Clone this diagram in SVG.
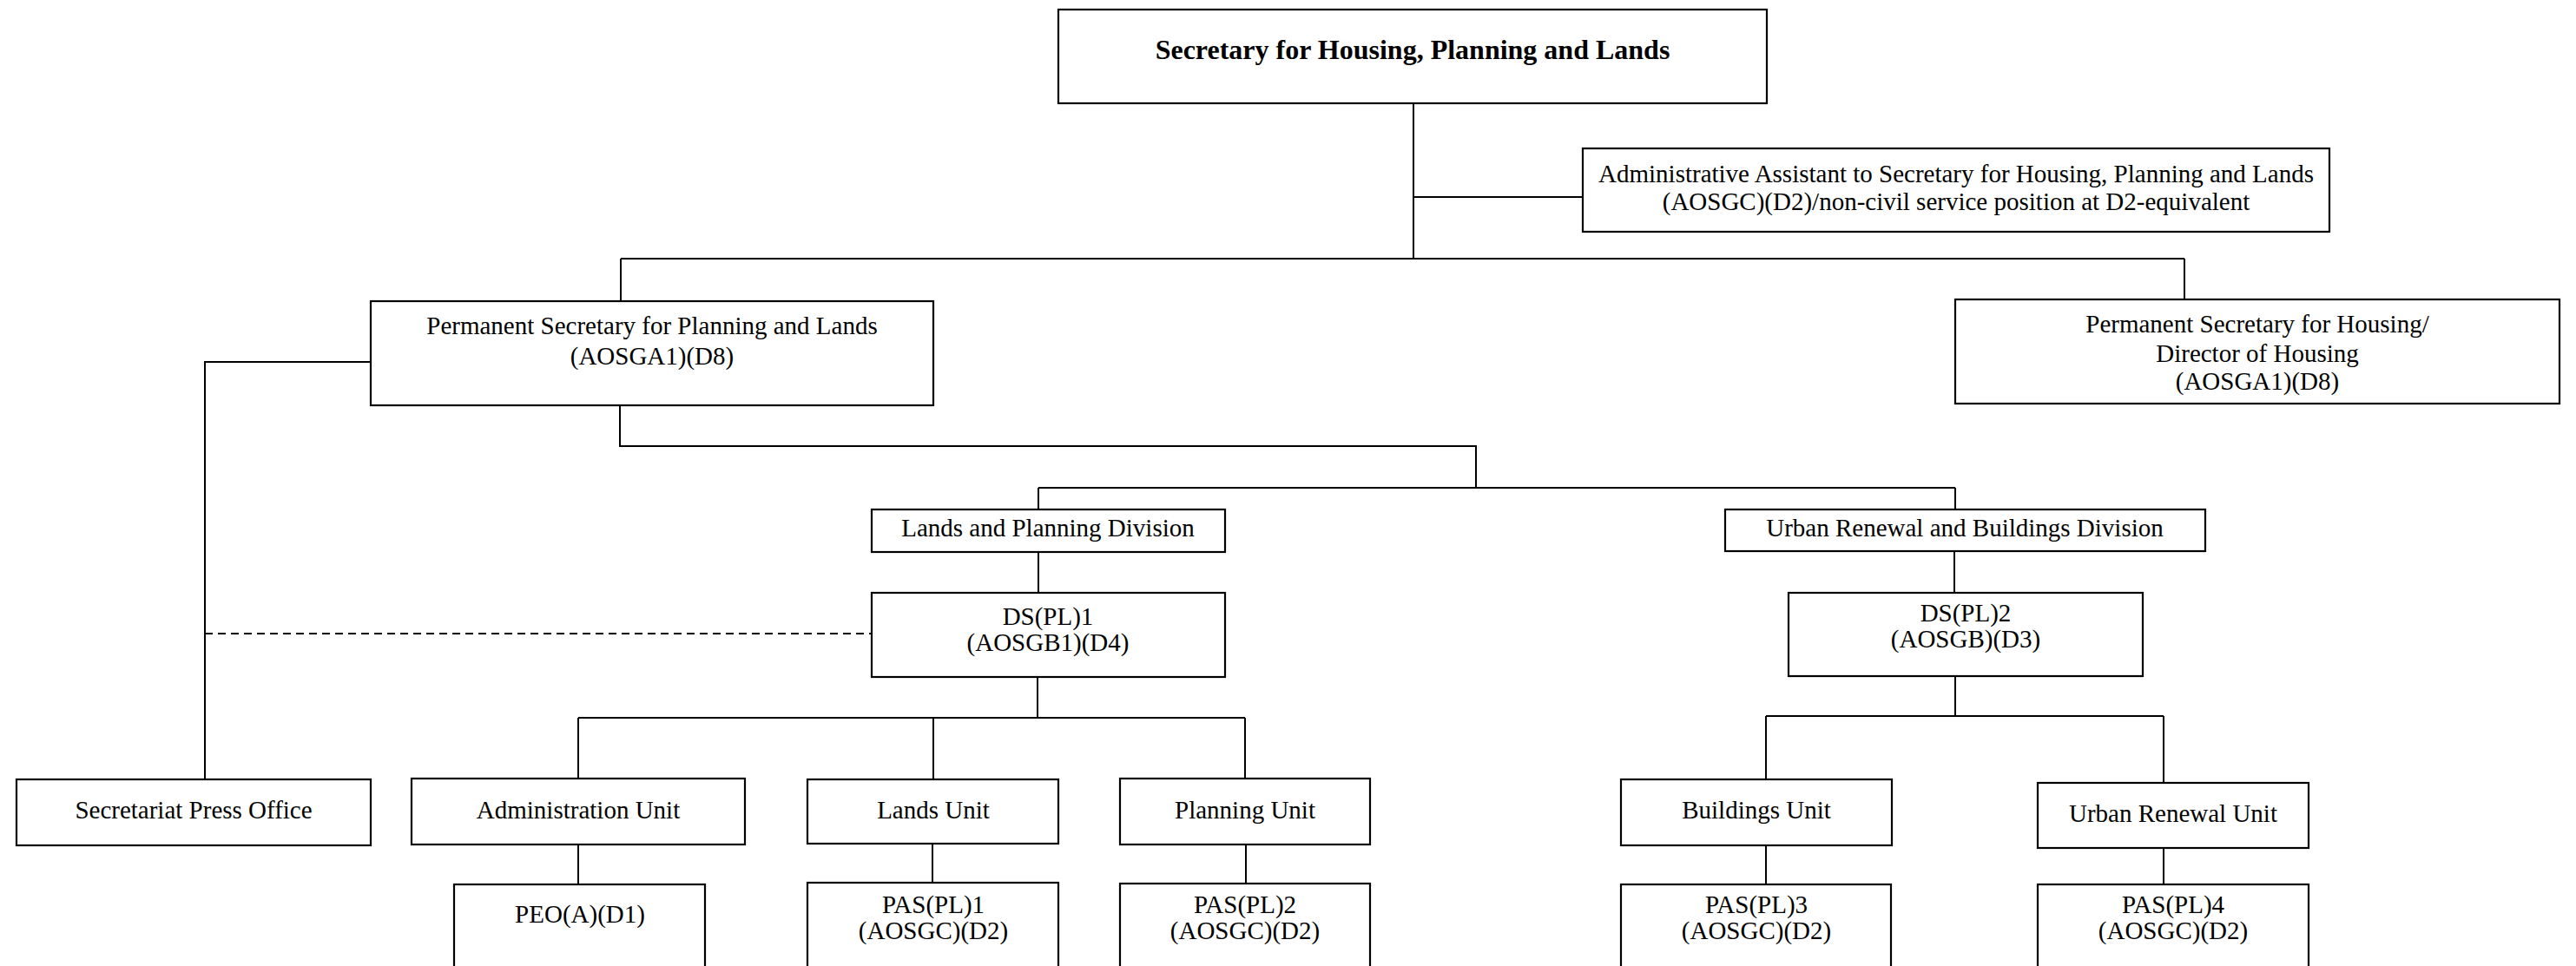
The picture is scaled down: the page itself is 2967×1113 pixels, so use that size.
<svg xmlns="http://www.w3.org/2000/svg" width="2967" height="1113" viewBox="0 0 2967 1113">
<style>
.box{fill:#fff;stroke:#000;stroke-width:2.2}
.t{font-family:"Liberation Serif","Times New Roman",serif;font-size:29px;fill:#000;text-anchor:middle}
.b{font-weight:bold;font-size:32px}
.c{fill:none;stroke:#000;stroke-width:2}
.d{fill:none;stroke:#000;stroke-width:1.8;stroke-dasharray:9,6}
</style>
<rect width="2967" height="1113" fill="#fff"/>
<g id="connectors">
<path class="c" d="M1628 119V298M1628 227H1823M715 298H2516M715 298V347M2516 298V345"/>
<path class="c" d="M427 417H236V898"/>
<path class="c" d="M714 467V514H1700V562M1196 562H2252M1196 562V587M2252 562V587"/>
<path class="c" d="M1196 636V683M2251 635V683"/>
<path class="c" d="M1195 780V827M666 827H1434M666 827V897M1075 827V898M1434 827V897"/>
<path class="c" d="M666 973V1019M1074 972V1017M1435 973V1018"/>
<path class="c" d="M2252 779V825M2034 825H2492M2034 825V898M2492 825V902"/>
<path class="c" d="M2034 974V1019M2492 977V1019"/>
<path class="d" d="M236 730H1004"/>
</g>
<g id="sec">
<rect class="box" x="1219" y="11" width="816" height="108"/>
<text class="t b" x="1627" y="68">Secretary for Housing, Planning and Lands</text>
</g>
<g id="admin-assistant">
<rect class="box" x="1823" y="171" width="860" height="96"/>
<text class="t" x="2253" y="210">Administrative Assistant to Secretary for Housing, Planning and Lands</text>
<text class="t" x="2253" y="242">(AOSGC)(D2)/non-civil service position at D2-equivalent</text>
</g>
<g id="ps-planning">
<rect class="box" x="427" y="347" width="648" height="120"/>
<text class="t" x="751" y="385">Permanent Secretary for Planning and Lands</text>
<text class="t" x="751" y="420">(AOSGA1)(D8)</text>
</g>
<g id="ps-housing">
<rect class="box" x="2252" y="345" width="696" height="120"/>
<text class="t" x="2600" y="383">Permanent Secretary for Housing/</text>
<text class="t" x="2600" y="417">Director of Housing</text>
<text class="t" x="2600" y="449">(AOSGA1)(D8)</text>
</g>
<g id="lands-planning-division">
<rect class="box" x="1004" y="587" width="407" height="49"/>
<text class="t" x="1207" y="618">Lands and Planning Division</text>
</g>
<g id="ds-pl-1">
<rect class="box" x="1004" y="683" width="407" height="97"/>
<text class="t" x="1207" y="720">DS(PL)1</text>
<text class="t" x="1207" y="750">(AOSGB1)(D4)</text>
</g>
<g id="urban-renewal-buildings-division">
<rect class="box" x="1987" y="587" width="553" height="48"/>
<text class="t" x="2263" y="618">Urban Renewal and Buildings Division</text>
</g>
<g id="ds-pl-2">
<rect class="box" x="2060" y="683" width="408" height="96"/>
<text class="t" x="2264" y="716">DS(PL)2</text>
<text class="t" x="2264" y="746">(AOSGB)(D3)</text>
</g>
<g id="press-office">
<rect class="box" x="19" y="898" width="408" height="76"/>
<text class="t" x="223" y="943">Secretariat Press Office</text>
</g>
<g id="administration-unit">
<rect class="box" x="474" y="897" width="384" height="76"/>
<text class="t" x="666" y="943">Administration Unit</text>
</g>
<g id="lands-unit">
<rect class="box" x="930" y="898" width="289" height="74"/>
<text class="t" x="1075" y="943">Lands Unit</text>
</g>
<g id="planning-unit">
<rect class="box" x="1290" y="897" width="288" height="76"/>
<text class="t" x="1434" y="943">Planning Unit</text>
</g>
<g id="buildings-unit">
<rect class="box" x="1867" y="898" width="312" height="76"/>
<text class="t" x="2023" y="943">Buildings Unit</text>
</g>
<g id="urban-renewal-unit">
<rect class="box" x="2347" y="902" width="312" height="75"/>
<text class="t" x="2503" y="947">Urban Renewal Unit</text>
</g>
<g id="peo-a">
<rect class="box" x="523" y="1019" width="289" height="110"/>
<text class="t" x="668" y="1063">PEO(A)(D1)</text>
</g>
<g id="pas-pl-1">
<rect class="box" x="930" y="1017" width="289" height="110"/>
<text class="t" x="1075" y="1052">PAS(PL)1</text>
<text class="t" x="1075" y="1082">(AOSGC)(D2)</text>
</g>
<g id="pas-pl-2">
<rect class="box" x="1290" y="1018" width="288" height="110"/>
<text class="t" x="1434" y="1052">PAS(PL)2</text>
<text class="t" x="1434" y="1082">(AOSGC)(D2)</text>
</g>
<g id="pas-pl-3">
<rect class="box" x="1867" y="1019" width="311" height="110"/>
<text class="t" x="2023" y="1052">PAS(PL)3</text>
<text class="t" x="2023" y="1082">(AOSGC)(D2)</text>
</g>
<g id="pas-pl-4">
<rect class="box" x="2347" y="1019" width="312" height="110"/>
<text class="t" x="2503" y="1052">PAS(PL)4</text>
<text class="t" x="2503" y="1082">(AOSGC)(D2)</text>
</g>
</svg>
